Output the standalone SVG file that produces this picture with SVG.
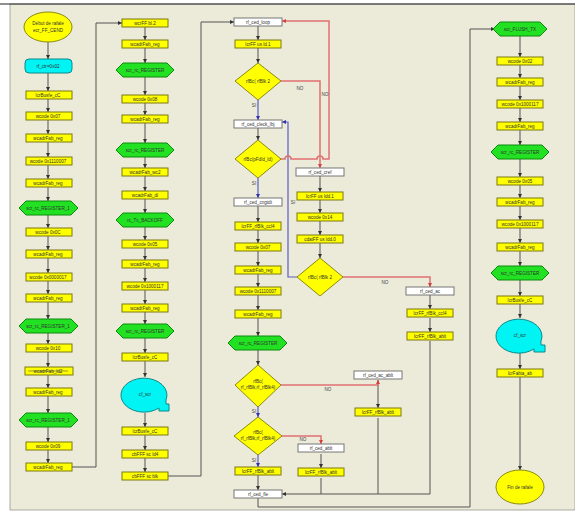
<svg xmlns="http://www.w3.org/2000/svg" width="575" height="521" viewBox="0 0 575 521">
<defs>
<style>
.r{fill:#ffff00;stroke:#7a7a10;stroke-width:1}
.w{fill:#ffffff;stroke:#777777;stroke-width:1}
.h{fill:#22e022;stroke:#0c8a0c;stroke-width:1}
.c{fill:#00f4f4;stroke:#0a8a8a;stroke-width:1}
.d{fill:#ffff00;stroke:#8a8a10;stroke-width:1}
.t{font-family:"Liberation Sans",Arial,sans-serif;font-size:4.6px;fill:#333;text-anchor:middle}
.lb{font-family:"Liberation Sans",Arial,sans-serif;font-size:4.6px;fill:#444;text-anchor:middle}
.k{stroke:#555;stroke-width:1;fill:none}
.kr{stroke:#555;stroke-width:1;fill:none;marker-end:url(#ak)}
.rd{stroke:#e07070;stroke-width:1.5;fill:none;marker-end:url(#ar)}
.bl{stroke:#5a5ac8;stroke-width:1.2;fill:none;marker-end:url(#ab)}
</style>
<marker id="ak" viewBox="0 0 6 6" refX="6" refY="3" markerWidth="4" markerHeight="4" orient="auto" markerUnits="userSpaceOnUse"><path d="M0,0L6,3L0,6z" fill="#333"/></marker>
<marker id="ar" viewBox="0 0 6 6" refX="6" refY="3" markerWidth="4" markerHeight="4" orient="auto" markerUnits="userSpaceOnUse"><path d="M0,0L6,3L0,6z" fill="#d04040"/></marker>
<marker id="ab" viewBox="0 0 6 6" refX="6" refY="3" markerWidth="4" markerHeight="4" orient="auto" markerUnits="userSpaceOnUse"><path d="M0,0L6,3L0,6z" fill="#3030b0"/></marker>
</defs>
<rect x="0" y="0" width="575" height="521" fill="#ffffff"/>
<rect x="10" y="4" width="565" height="506" fill="#ecead9" stroke="#9a9a90" stroke-width="0.8"/>
<line x1="0" y1="4" x2="575" y2="4" stroke="#222" stroke-width="1.2"/>

<g id="connectors">
<line class="kr" x1="48" y1="42" x2="48" y2="59"/>
<line class="kr" x1="48" y1="73" x2="48" y2="91"/>
<line class="kr" x1="48" y1="99" x2="48" y2="112"/>
<line class="kr" x1="48" y1="120" x2="48" y2="134"/>
<line class="kr" x1="48" y1="142" x2="48" y2="157"/>
<line class="kr" x1="48" y1="165" x2="48" y2="179"/>
<line class="kr" x1="48" y1="187" x2="48" y2="201"/>
<line class="kr" x1="48" y1="215" x2="48" y2="228"/>
<line class="kr" x1="48" y1="236" x2="48" y2="250"/>
<line class="kr" x1="48" y1="258" x2="48" y2="273"/>
<line class="kr" x1="48" y1="281" x2="48" y2="294"/>
<line class="kr" x1="48" y1="302" x2="48" y2="319"/>
<line class="kr" x1="48" y1="333" x2="48" y2="344"/>
<line class="kr" x1="48" y1="352" x2="48" y2="367"/>
<line class="kr" x1="48" y1="375" x2="48" y2="388"/>
<line class="kr" x1="48" y1="396" x2="48" y2="413"/>
<line class="kr" x1="48" y1="427" x2="48" y2="442"/>
<line class="kr" x1="48" y1="450" x2="48" y2="463"/>
<path class="kr" d="M72,467H96V23H122"/>
<line class="kr" x1="145" y1="27" x2="145" y2="40"/>
<line class="kr" x1="145" y1="48" x2="145" y2="63"/>
<line class="kr" x1="145" y1="77" x2="145" y2="95"/>
<line class="kr" x1="145" y1="103" x2="145" y2="115"/>
<line class="kr" x1="145" y1="123" x2="145" y2="143"/>
<line class="kr" x1="145" y1="157" x2="145" y2="168"/>
<line class="kr" x1="145" y1="176" x2="145" y2="191"/>
<line class="kr" x1="145" y1="199" x2="145" y2="213"/>
<line class="kr" x1="145" y1="227" x2="145" y2="240"/>
<line class="kr" x1="145" y1="248" x2="145" y2="260"/>
<line class="kr" x1="145" y1="268" x2="145" y2="282"/>
<line class="kr" x1="145" y1="290" x2="145" y2="304"/>
<line class="kr" x1="145" y1="312" x2="145" y2="324"/>
<line class="kr" x1="145" y1="338" x2="145" y2="353"/>
<line class="kr" x1="145" y1="361" x2="145" y2="377"/>
<line class="kr" x1="145" y1="413" x2="145" y2="427"/>
<line class="kr" x1="145" y1="435" x2="145" y2="450"/>
<line class="kr" x1="145" y1="458" x2="145" y2="472"/>
<path class="kr" d="M168,476H201V22H234"/>
<line class="kr" x1="258" y1="26" x2="258" y2="40"/>
<line class="kr" x1="258" y1="48" x2="258" y2="63"/>
<line class="kr" x1="258" y1="128" x2="258" y2="140"/>
<line class="kr" x1="258" y1="206" x2="258" y2="222"/>
<line class="kr" x1="258" y1="230" x2="258" y2="243"/>
<line class="kr" x1="258" y1="251" x2="258" y2="266"/>
<line class="kr" x1="258" y1="274" x2="258" y2="287"/>
<line class="kr" x1="258" y1="295" x2="258" y2="310"/>
<line class="kr" x1="258" y1="318" x2="258" y2="336"/>
<line class="kr" x1="258" y1="350" x2="258" y2="365"/>
<line class="kr" x1="258" y1="475" x2="258" y2="490"/>
<line class="kr" x1="320" y1="176" x2="320" y2="192"/>
<line class="kr" x1="320" y1="200" x2="320" y2="213"/>
<line class="kr" x1="320" y1="221" x2="320" y2="235"/>
<line class="kr" x1="320" y1="243" x2="320" y2="258"/>
<line class="kr" x1="430" y1="295" x2="430" y2="309"/>
<line class="kr" x1="430" y1="318" x2="430" y2="332"/>
<line class="kr" x1="378" y1="380" x2="378" y2="408"/>
<line class="kr" x1="321" y1="454" x2="321" y2="468"/>
<path class="k" d="M430,341V494M378,418V494M321,478V494"/>
<path class="kr" d="M430,494H282"/>
<path class="kr" d="M258,498V507H470V29H495"/>
<line class="kr" x1="520" y1="36" x2="520" y2="57"/>
<line class="kr" x1="520" y1="65" x2="520" y2="78"/>
<line class="kr" x1="520" y1="86" x2="520" y2="100"/>
<line class="kr" x1="520" y1="108" x2="520" y2="122"/>
<line class="kr" x1="520" y1="130" x2="520" y2="145"/>
<line class="kr" x1="520" y1="159" x2="520" y2="177"/>
<line class="kr" x1="520" y1="185" x2="520" y2="198"/>
<line class="kr" x1="520" y1="206" x2="520" y2="220"/>
<line class="kr" x1="520" y1="228" x2="520" y2="243"/>
<line class="kr" x1="520" y1="251" x2="520" y2="266"/>
<line class="kr" x1="520" y1="280" x2="520" y2="296"/>
<line class="kr" x1="520" y1="304" x2="520" y2="318"/>
<line class="kr" x1="520" y1="352" x2="520" y2="369"/>
<line class="kr" x1="520" y1="377" x2="520" y2="470"/>
<line class="bl" x1="258" y1="100" x2="258" y2="120"/>
<line class="bl" x1="258" y1="178" x2="258" y2="198"/>
<line class="bl" x1="258" y1="407" x2="258" y2="417"/>
<line class="bl" x1="258" y1="455" x2="258" y2="467"/>
<path class="bl" d="M297,277H288V122H282"/>
<path class="rd" d="M281,81H320V168"/>
<path class="rd" d="M281,159H285A3,3 0 0 1 291,159H317A3,3 0 0 1 323,159H329V21H282"/>
<path class="rd" d="M343,277H430V287"/>
<path class="rd" d="M281,385H378V380"/>
<path class="rd" d="M282,436H321V444"/>
<text class="lb" x="300" y="90">NO</text>
<text class="lb" x="325" y="96">NO</text>
<text class="lb" x="385" y="284">NO</text>
<text class="lb" x="328" y="391">NO</text>
<text class="lb" x="303" y="441">NO</text>
<text class="lb" x="254" y="107">SI</text>
<text class="lb" x="254" y="185">SI</text>
<text class="lb" x="293" y="204">SI</text>
<text class="lb" x="254" y="413">SI</text>
<text class="lb" x="254" y="462">SI</text>
</g>

<g id="n_start"><ellipse class="d" cx="48" cy="27" rx="24" ry="15"/><text class="t" x="48" y="25">Début de rafale</text><text class="t" x="48" y="32">ecr_FF_CEND</text></g>
<g id="n_ctr"><rect class="c" x="25" y="59" width="47" height="14" rx="4"/><text class="t" x="48" y="67.5">rf_ctr=0x02</text></g>
<g id="c1_1"><rect class="r" x="26" y="91" width="46" height="8"/><text class="t" x="48" y="96.8">lcrBusfe_cC</text></g>
<g id="c1_2"><rect class="r" x="26" y="112" width="46" height="8"/><text class="t" x="48" y="117.8">wcode 0x07</text></g>
<g id="c1_3"><rect class="r" x="26" y="134" width="46" height="8"/><text class="t" x="48" y="139.8">wcadrFab_reg</text></g>
<g id="c1_4"><rect class="r" x="26" y="157" width="46" height="8"/><text class="t" x="48" y="162.8">wcode 0x1110007</text></g>
<g id="c1_5"><rect class="r" x="26" y="179" width="46" height="8"/><text class="t" x="48" y="184.8">wcadrFab_reg</text></g>
<g id="c1_h1"><polygon class="h" points="19,208 26,201 71,201 78,208 71,215 26,215"/><text class="t" x="48" y="209.8">scr_rc_REGISTER_1</text></g>
<g id="c1_6"><rect class="r" x="26" y="228" width="46" height="8"/><text class="t" x="48" y="233.8">wcode 0x0C</text></g>
<g id="c1_7"><rect class="r" x="26" y="250" width="46" height="8"/><text class="t" x="48" y="255.8">wcadrFab_reg</text></g>
<g id="c1_8"><rect class="r" x="26" y="273" width="46" height="8"/><text class="t" x="48" y="278.8">wcode 0x0000017</text></g>
<g id="c1_9"><rect class="r" x="26" y="294" width="46" height="8"/><text class="t" x="48" y="299.8">wcadrFab_reg</text></g>
<g id="c1_h2"><polygon class="h" points="19,326 26,319 71,319 78,326 71,333 26,333"/><text class="t" x="48" y="327.8">scr_rc_REGISTER_1</text></g>
<g id="c1_10"><rect class="r" x="26" y="344" width="46" height="8"/><text class="t" x="48" y="349.8">wcode 0x10</text></g>
<g id="c1_11"><rect class="r" x="25" y="367" width="48" height="8" stroke="#333" stroke-width="1.6"/><line x1="28" y1="371" x2="68" y2="371" stroke="#555" stroke-width="0.6"/><text class="t" x="48" y="372.8">wcadrFab_ld2</text></g>
<g id="c1_12"><rect class="r" x="26" y="388" width="46" height="8"/><text class="t" x="48" y="393.8">wcadrFab_reg</text></g>
<g id="c1_h3"><polygon class="h" points="19,420 26,413 71,413 78,420 71,427 26,427"/><text class="t" x="48" y="421.8">scr_rc_REGISTER_1</text></g>
<g id="c1_13"><rect class="r" x="26" y="442" width="46" height="8"/><text class="t" x="48" y="447.8">wcode 0x09</text></g>
<g id="c1_14"><rect class="r" x="26" y="463" width="46" height="8"/><text class="t" x="48" y="468.8">wcadrFab_reg</text></g>

<g id="c2_1"><rect class="r" x="122" y="19" width="46" height="8"/><text class="t" x="145" y="24.8">wcrFF bl.2</text></g>
<g id="c2_2"><rect class="r" x="122" y="40" width="46" height="8"/><text class="t" x="145" y="45.8">wcadrFab_reg</text></g>
<g id="c2_h1"><polygon class="h" points="116,70 123,63 167,63 174,70 167,77 123,77"/><text class="t" x="145" y="71.8">scr_rc_REGISTER</text></g>
<g id="c2_3"><rect class="r" x="122" y="95" width="46" height="8"/><text class="t" x="145" y="100.8">wcode 0x08</text></g>
<g id="c2_4"><rect class="r" x="122" y="115" width="46" height="8"/><text class="t" x="145" y="120.8">wcadrFab_reg</text></g>
<g id="c2_h2"><polygon class="h" points="116,150 123,143 167,143 174,150 167,157 123,157"/><text class="t" x="145" y="151.8">scr_rc_REGISTER</text></g>
<g id="c2_5"><rect class="r" x="122" y="168" width="46" height="8"/><text class="t" x="145" y="173.8">wcadrFab_wc2</text></g>
<g id="c2_6"><rect class="r" x="122" y="191" width="46" height="8"/><text class="t" x="145" y="196.8">wcadrFab_di</text></g>
<g id="c2_h3"><polygon class="h" points="116,220 123,213 167,213 174,220 167,227 123,227"/><text class="t" x="145" y="221.8">rc_Tx_BACKOFF</text></g>
<g id="c2_7"><rect class="r" x="122" y="240" width="46" height="8"/><text class="t" x="145" y="245.8">wcode 0x05</text></g>
<g id="c2_8"><rect class="r" x="122" y="260" width="46" height="8"/><text class="t" x="145" y="265.8">wcadrFab_reg</text></g>
<g id="c2_9"><rect class="r" x="122" y="282" width="46" height="8"/><text class="t" x="145" y="287.8">wcode 0x1000117</text></g>
<g id="c2_10"><rect class="r" x="122" y="304" width="46" height="8"/><text class="t" x="145" y="309.8">wcadrFab_reg</text></g>
<g id="c2_h4"><polygon class="h" points="116,331 123,324 167,324 174,331 167,338 123,338"/><text class="t" x="145" y="332.8">scr_rc_REGISTER</text></g>
<g id="c2_11"><rect class="r" x="122" y="353" width="46" height="8"/><text class="t" x="145" y="358.8">lcrBusfe_cC</text></g>
<g id="c2_b"><path class="c" d="M159,408A23,17 0 1 1 166,400V404H169V411H159Z"/><text class="t" x="145" y="396">cf_scr</text></g>
<g id="c2_12"><rect class="r" x="122" y="427" width="46" height="8"/><text class="t" x="145" y="432.8">lcrBusfe_cC</text></g>
<g id="c2_13"><rect class="r" x="122" y="450" width="46" height="8"/><text class="t" x="145" y="455.8">cbFFF sc ld4</text></g>
<g id="c2_14"><rect class="r" x="122" y="472" width="46" height="8"/><text class="t" x="145" y="477.8">cbFFF sc blk</text></g>

<g id="c3_loop"><rect class="w" x="234" y="18" width="48" height="8"/><text class="t" x="258" y="23.8">rf_ced_loop</text></g>
<g id="c3_1"><rect class="r" x="235" y="40" width="46" height="8"/><text class="t" x="258" y="45.8">lcrFF us ld.1</text></g>
<g id="c3_d1"><polygon class="d" points="258,63 281,81 258,100 235,81"/><text class="t" x="258" y="83">rfBc( rfBlk 2</text></g>
<g id="c3_cl"><rect class="w" x="234" y="120" width="48" height="8"/><text class="t" x="258" y="125.8">rf_ced_cleck_lbj</text></g>
<g id="c3_d2"><polygon class="d" points="258,140 281,159 258,178 235,159"/><text class="t" x="258" y="161">rfBc(pFdld_ld)</text></g>
<g id="c3_cn"><rect class="w" x="234" y="198" width="48" height="8"/><text class="t" x="258" y="203.8">rf_ced_cngtdt</text></g>
<g id="c3_2"><rect class="r" x="235" y="222" width="46" height="8"/><text class="t" x="258" y="227.8">lcrFF_rfBlk_ccl4</text></g>
<g id="c3_3"><rect class="r" x="235" y="243" width="46" height="8"/><text class="t" x="258" y="248.8">wcode 0x07</text></g>
<g id="c3_4"><rect class="r" x="235" y="266" width="46" height="8"/><text class="t" x="258" y="271.8">wcadrFab_reg</text></g>
<g id="c3_5"><rect class="r" x="235" y="287" width="46" height="8"/><text class="t" x="258" y="292.8">wcode 0x1110007</text></g>
<g id="c3_6"><rect class="r" x="235" y="310" width="46" height="8"/><text class="t" x="258" y="315.8">wcadrFab_reg</text></g>
<g id="c3_h"><polygon class="h" points="228,343 235,336 280,336 287,343 280,350 235,350"/><text class="t" x="258" y="344.8">scr_rc_REGISTER</text></g>
<g id="c3_d3"><polygon class="d" points="258,365 281,385 258,407 235,385"/><text class="t" x="258" y="383">rfBc(</text><text class="t" x="258" y="389">rf_rfBlk,rf_rfBlk4)</text></g>
<g id="c3_d4"><polygon class="d" points="258,417 282,436 258,455 234,436"/><text class="t" x="258" y="434">rfBc(</text><text class="t" x="258" y="440">rf_rfBlk,rf_rfBlk4)</text></g>
<g id="c3_7"><rect class="r" x="235" y="467" width="46" height="8"/><text class="t" x="258" y="472.8">lcrFF_rfBlk_ablt</text></g>
<g id="c3_fle"><rect class="w" x="234" y="490" width="48" height="8"/><text class="t" x="258" y="495.8">rf_ced_fle</text></g>

<g id="c4_cref"><rect class="w" x="296" y="168" width="48" height="8"/><text class="t" x="320" y="173.8">rf_ced_cref</text></g>
<g id="c4_1"><rect class="r" x="297" y="192" width="46" height="8"/><text class="t" x="320" y="197.8">lcrFF us ldd.1</text></g>
<g id="c4_2"><rect class="r" x="297" y="213" width="46" height="8"/><text class="t" x="320" y="218.8">wcode 0x14</text></g>
<g id="c4_3"><rect class="r" x="297" y="235" width="46" height="8"/><text class="t" x="320" y="240.8">cdatFF us ldd.0</text></g>
<g id="c4_d"><polygon class="d" points="320,258 343,277 320,296 297,277"/><text class="t" x="320" y="279">rfBc( rfBlk 2</text></g>
<g id="c6_ac"><rect class="w" x="406" y="287" width="48" height="8"/><text class="t" x="430" y="292.8">rf_ced_ac</text></g>
<g id="c6_1"><rect class="r" x="407" y="309" width="46" height="8"/><text class="t" x="430" y="314.8">lcrFF_rfBlk_ccl4</text></g>
<g id="c6_2"><rect class="r" x="407" y="332" width="46" height="8"/><text class="t" x="430" y="337.8">lcrFF_rfBlk_ablt</text></g>
<g id="c5_acab"><rect class="w" x="354" y="371" width="48" height="8"/><text class="t" x="378" y="376.8">rf_ced_ac_ablt</text></g>
<g id="c5_1"><rect class="r" x="355" y="408" width="46" height="8"/><text class="t" x="378" y="413.8">lcrFF_rfBlk_ablt</text></g>
<g id="c4_ab"><rect class="w" x="298" y="444" width="46" height="8"/><text class="t" x="321" y="449.8">rf_ced_ablt</text></g>
<g id="c4_4"><rect class="r" x="298" y="468" width="46" height="8"/><text class="t" x="321" y="473.8">lcrFF_rfBlk_ablt</text></g>

<g id="c7_h1"><polygon class="h" points="493,29 500,22 540,22 547,29 540,36 500,36"/><text class="t" x="520" y="30.8">scr_FLUSH_TX</text></g>
<g id="c7_1"><rect class="r" x="497" y="57" width="46" height="8"/><text class="t" x="520" y="62.8">wcode 0x02</text></g>
<g id="c7_2"><rect class="r" x="497" y="78" width="46" height="8"/><text class="t" x="520" y="83.8">wcadrFab_reg</text></g>
<g id="c7_3"><rect class="r" x="497" y="100" width="46" height="8"/><text class="t" x="520" y="105.8">wcode 0x1000117</text></g>
<g id="c7_4"><rect class="r" x="497" y="122" width="46" height="8"/><text class="t" x="520" y="127.8">wcadrFab_reg</text></g>
<g id="c7_h2"><polygon class="h" points="491,152 498,145 542,145 549,152 542,159 498,159"/><text class="t" x="520" y="153.8">scr_rc_REGISTER</text></g>
<g id="c7_5"><rect class="r" x="497" y="177" width="46" height="8"/><text class="t" x="520" y="182.8">wcode 0x05</text></g>
<g id="c7_6"><rect class="r" x="497" y="198" width="46" height="8"/><text class="t" x="520" y="203.8">wcadrFab_reg</text></g>
<g id="c7_7"><rect class="r" x="497" y="220" width="46" height="8"/><text class="t" x="520" y="225.8">wcode 0x1000117</text></g>
<g id="c7_8"><rect class="r" x="497" y="243" width="46" height="8"/><text class="t" x="520" y="248.8">wcadrFab_reg</text></g>
<g id="c7_h3"><polygon class="h" points="491,273 498,266 542,266 549,273 542,280 498,280"/><text class="t" x="520" y="274.8">scr_rc_REGISTER</text></g>
<g id="c7_9"><rect class="r" x="497" y="296" width="46" height="8"/><text class="t" x="520" y="301.8">lcrBusfe_cC</text></g>
<g id="c7_b"><path class="c" d="M534,349A23,17 0 1 1 541,341V345H545V352H534Z"/><text class="t" x="520" y="337">cf_scr</text></g>
<g id="c7_10"><rect class="r" x="497" y="369" width="46" height="8"/><text class="t" x="520" y="374.8">lcrFabia_ab</text></g>
<g id="n_end"><ellipse class="d" cx="520" cy="487" rx="24" ry="17"/><text class="t" x="520" y="489">Fin de rafale</text></g>
</svg>
